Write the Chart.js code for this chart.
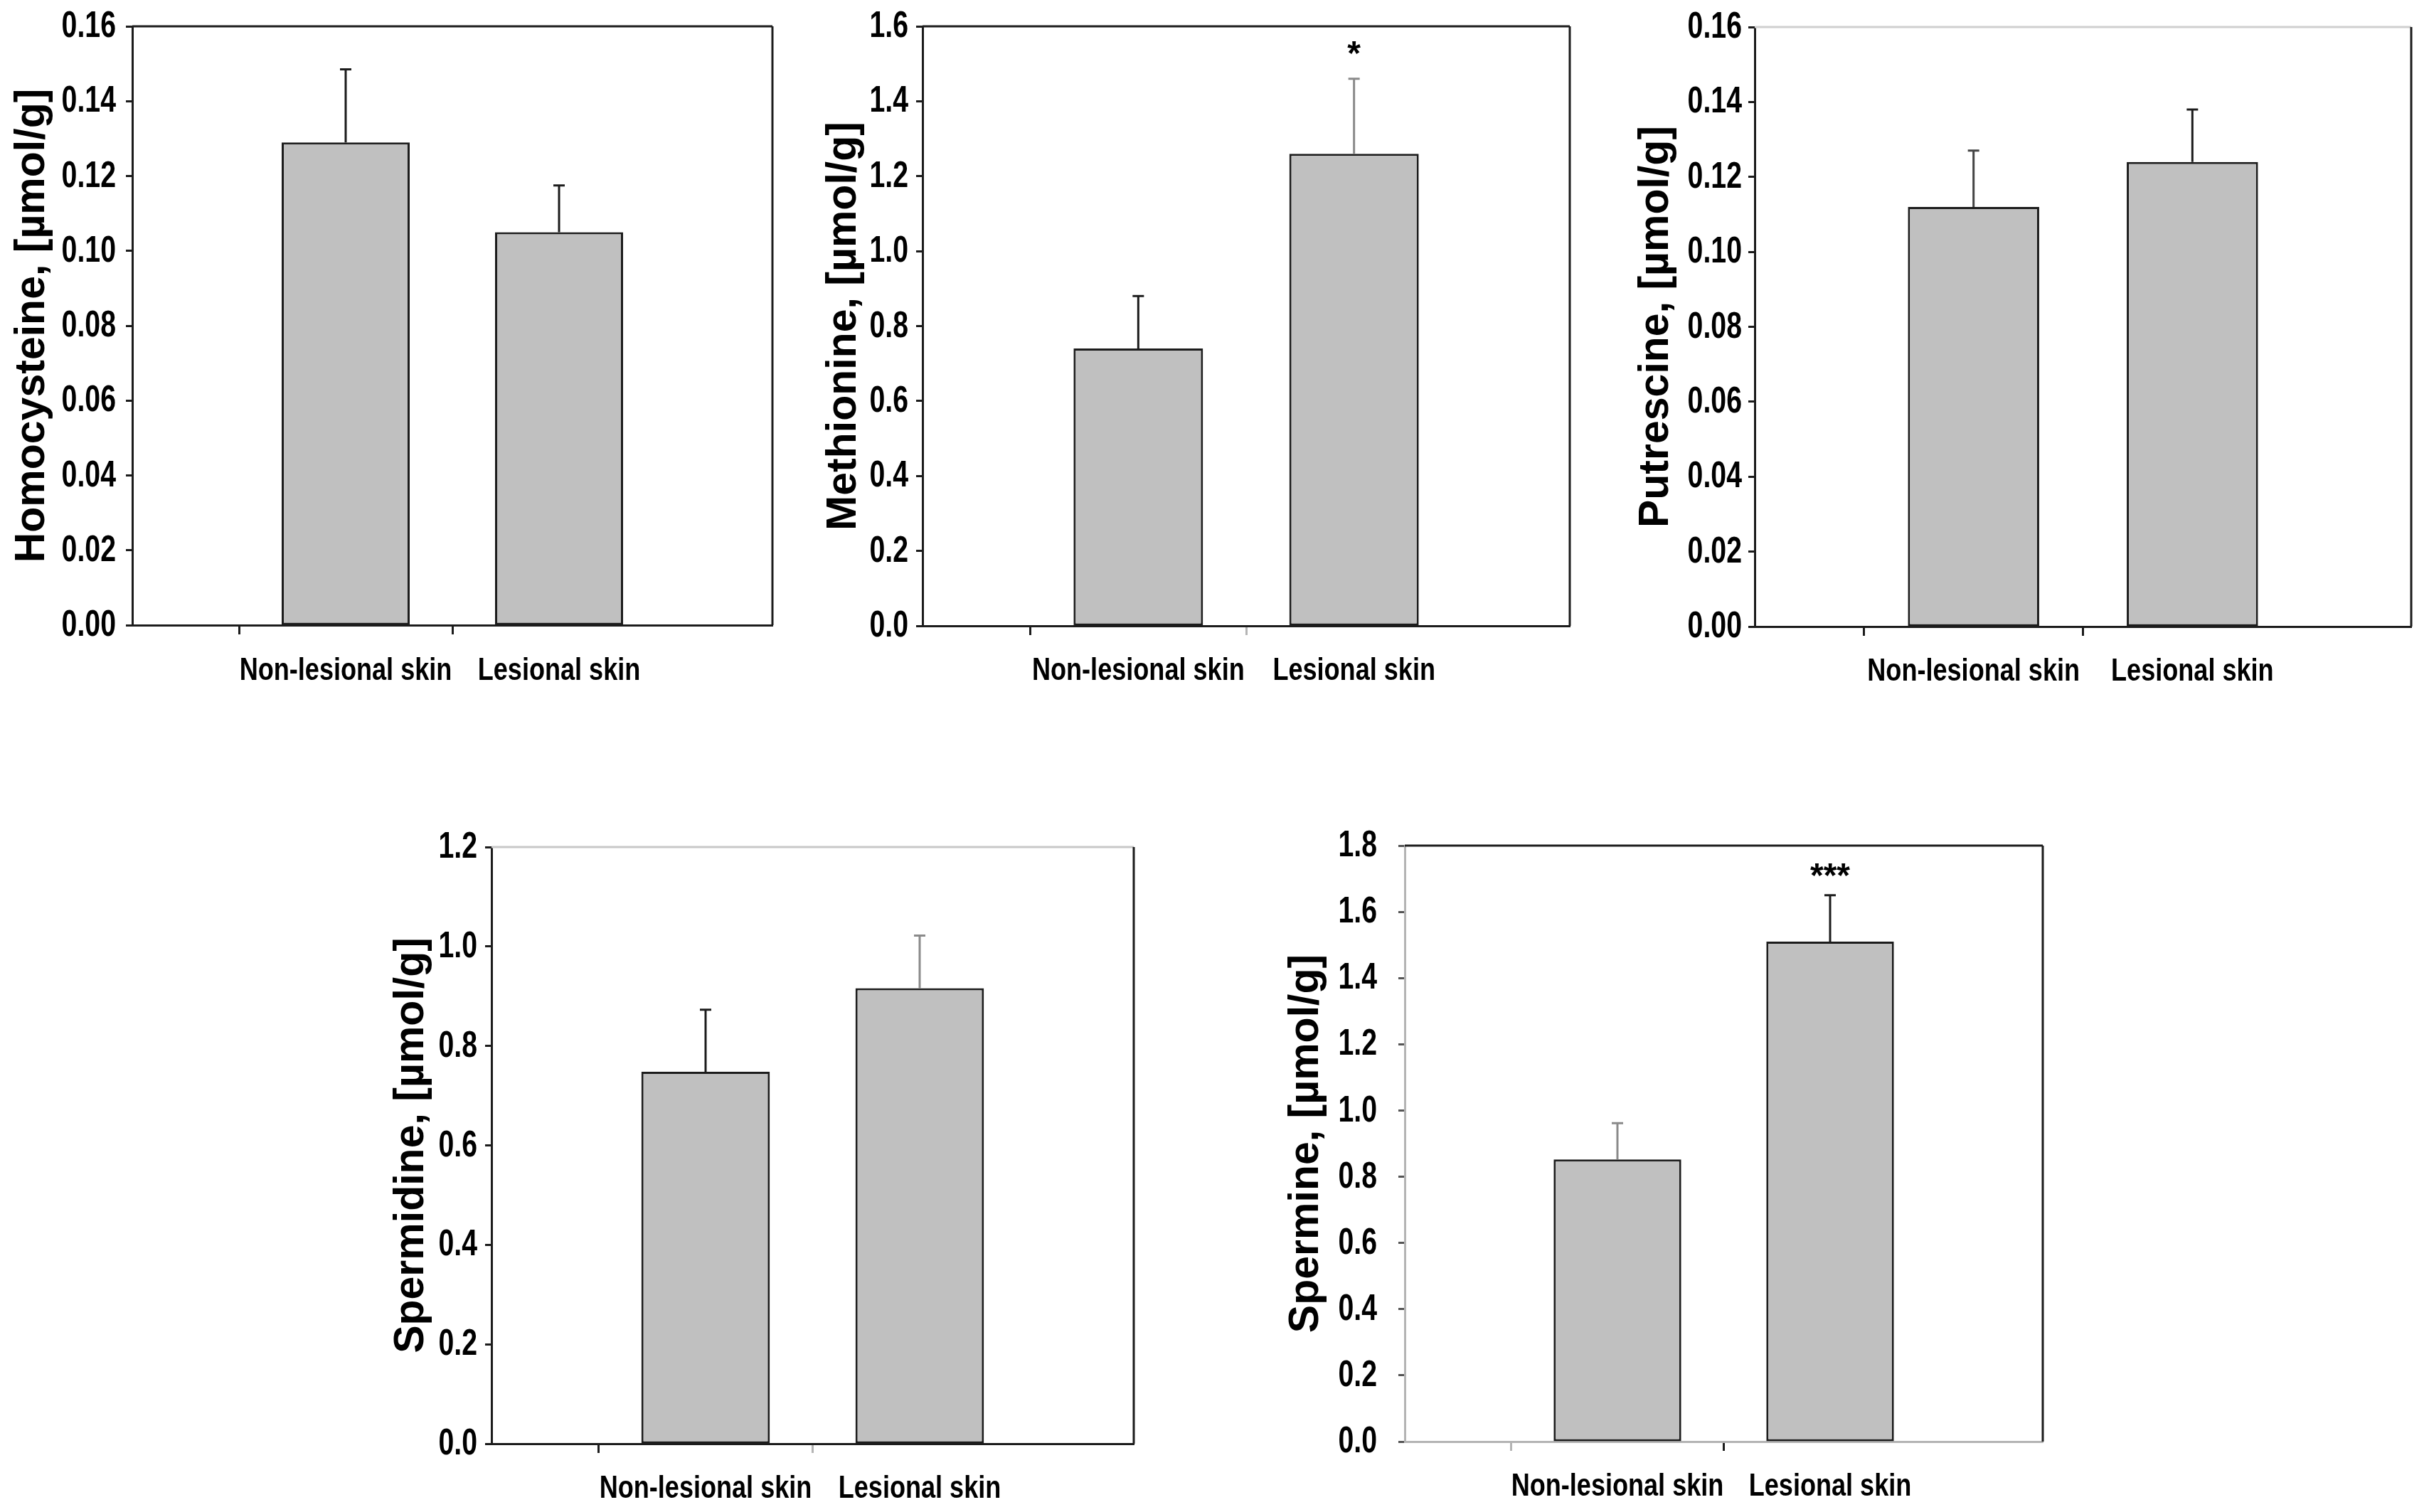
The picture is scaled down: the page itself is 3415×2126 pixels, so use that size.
<!DOCTYPE html>
<html>
<head>
<meta charset="utf-8">
<script src="https://cdn.jsdelivr.net/npm/chart.js@4.4.1/dist/chart.umd.min.js"></script>
<style>
  html, body { margin: 0; padding: 0; background: #fff; }
  #page { position: relative; width: 3415px; height: 2126px; overflow: hidden; background: #fff; }
  #page canvas { position: absolute; }
</style>
</head>
<body>
<div id="page"></div>
<script>
// values (mean, upper error = SEM)
const groups = ['Non-lesional skin', 'Lesional skin'];

const homocysteine = [0.129, 0.105];
const homocysteineSem = [0.0195, 0.0125];
const methionine = [0.74, 1.26];
const methionineSem = [0.14, 0.20];
const putrescine = [0.112, 0.124];
const putrescineSem = [0.015, 0.014];
const spermidine = [0.748, 0.916];
const spermidineSem = [0.125, 0.106];
const spermine = [0.852, 1.51];
const spermineSem = [0.11, 0.14];

const methionineSig = ['', '*'];
const spermineSig = ['', '***'];

const hcyTicks = [0, 0.02, 0.04, 0.06, 0.08, 0.10, 0.12, 0.14, 0.16];
const metTicks = [0, 0.2, 0.4, 0.6, 0.8, 1.0, 1.2, 1.4, 1.6];
const putTicks = [0, 0.02, 0.04, 0.06, 0.08, 0.10, 0.12, 0.14, 0.16];
const spdTicks = [0, 0.2, 0.4, 0.6, 0.8, 1.0, 1.2];
const spmTicks = [0, 0.2, 0.4, 0.6, 0.8, 1.0, 1.2, 1.4, 1.6, 1.8];

const DARK = '#1c1c1c';
const LIGHT = '#b4b4b4';
const Y_W = 180;
const X_H = 140;
const Y_TICK = 9;
const X_TICK = 13;

const panels = [
  { title: 'Homocysteine, [µmol/g]', values: homocysteine, sem: homocysteineSem, sig: null, sigGap: 12,
    ticks: hcyTicks, decimals: 2,
    box: { left: 186, right: 1086, top: 37, bottom: 879 }, titleGap: 140, tickPad: 14, labelGap: 65,
    errColors: [DARK, DARK], xTickColors: [DARK, DARK], yAxis: DARK, xAxis: DARK, topLine: DARK, rightLine: DARK },
  { title: 'Methionine, [µmol/g]', values: methionine, sem: methionineSem, sig: methionineSig, sigGap: 20,
    ticks: metTicks, decimals: 1,
    box: { left: 1297, right: 2207, top: 37, bottom: 880 }, titleGap: 110, tickPad: 11, labelGap: 64,
    errColors: [DARK, '#8a8a8a'], xTickColors: [DARK, LIGHT], yAxis: DARK, xAxis: DARK, topLine: DARK, rightLine: DARK },
  { title: 'Putrescine, [µmol/g]', values: putrescine, sem: putrescineSem, sig: null, sigGap: 12,
    ticks: putTicks, decimals: 2,
    box: { left: 2467, right: 3390, top: 38, bottom: 881 }, titleGap: 138, tickPad: 9, labelGap: 64,
    errColors: ['#444', DARK], xTickColors: [DARK, DARK], yAxis: DARK, xAxis: DARK, topLine: '#cfcfcf', rightLine: DARK },
  { title: 'Spermidine, [µmol/g]', values: spermidine, sem: spermidineSem, sig: null, sigGap: 12,
    ticks: spdTicks, decimals: 1,
    box: { left: 691, right: 1594, top: 1191, bottom: 2030 }, titleGap: 112, tickPad: 11, labelGap: 64,
    errColors: [DARK, '#8a8a8a'], xTickColors: [DARK, LIGHT], yAxis: DARK, xAxis: DARK, topLine: '#c8c8c8', rightLine: DARK },
  { title: 'Spermine, [µmol/g]', values: spermine, sem: spermineSem, sig: spermineSig, sigGap: 12,
    ticks: spmTicks, decimals: 1,
    box: { left: 1975, right: 2872, top: 1189, bottom: 2027 }, titleGap: 138, tickPad: 30, labelGap: 64,
    errColors: ['#8a8a8a', DARK], xTickColors: [LIGHT, DARK], yAxis: LIGHT, xAxis: LIGHT, topLine: DARK, rightLine: DARK }
];

const wide = "'Liberation Sans', Arial, sans-serif";
const SQUEEZE_Y = 0.77; // condensed look of the original tick numbers
const SQUEEZE_X = 0.82;

const errorBars = {
  id: 'errorBars',
  afterDatasetsDraw(chart, args, opts) {
    const p = opts.panel;
    const meta = chart.getDatasetMeta(0);
    const y = chart.scales.y;
    const ctx = chart.ctx;
    ctx.save();
    meta.data.forEach((bar, i) => {
      const k = i - 1;
      if (k < 0 || k >= p.values.length) return;
      const errY = y.getPixelForValue(p.values[k] + p.sem[k]);
      ctx.strokeStyle = p.errColors[k];
      ctx.lineWidth = 3;
      ctx.beginPath();
      ctx.moveTo(bar.x, bar.y);
      ctx.lineTo(bar.x, errY);
      ctx.moveTo(bar.x - 8, errY);
      ctx.lineTo(bar.x + 8, errY);
      ctx.stroke();
      if (p.sig && p.sig[k]) {
        ctx.fillStyle = '#000';
        ctx.font = 'bold 48px ' + wide;
        ctx.textAlign = 'center';
        ctx.textBaseline = 'alphabetic';
        ctx.fillText(p.sig[k], bar.x, errY - p.sigGap);
      }
    });
    ctx.restore();
  }
};

const frame = {
  id: 'frame',
  afterDraw(chart, args, opts) {
    const p = opts.panel;
    const a = chart.chartArea;
    const ctx = chart.ctx;
    ctx.save();
    ctx.lineWidth = 3;
    ctx.strokeStyle = p.topLine;
    ctx.beginPath();
    ctx.moveTo(a.left, a.top);
    ctx.lineTo(a.right, a.top);
    ctx.stroke();
    ctx.strokeStyle = p.rightLine;
    ctx.beginPath();
    ctx.moveTo(a.right, a.top);
    ctx.lineTo(a.right, a.bottom);
    ctx.stroke();
    ctx.restore();
  }
};

// condensed tick labels, placed from the chart's own scales
const narrowLabels = {
  id: 'narrowLabels',
  afterDraw(chart, args, opts) {
    const p = opts.panel;
    const ctx = chart.ctx;
    const ys = chart.scales.y;
    const xs = chart.scales.x;
    ctx.save();
    ctx.fillStyle = '#000';
    ctx.font = 'bold 51px ' + wide;
    ctx.textAlign = 'right';
    ctx.textBaseline = 'middle';
    p.ticks.forEach(v => {
      ctx.save();
      ctx.translate(ys.right - Y_TICK - p.tickPad, ys.getPixelForValue(v) + 1);
      ctx.scale(SQUEEZE_Y, 1);
      ctx.fillText(v.toFixed(p.decimals), 0, 0);
      ctx.restore();
    });
    ctx.font = 'bold 44px ' + wide;
    ctx.textAlign = 'center';
    groups.forEach((g, i) => {
      ctx.save();
      ctx.translate(xs.getPixelForValue(i + 1), xs.top + p.labelGap);
      ctx.scale(SQUEEZE_X, 1);
      ctx.fillText(g, 0, 0);
      ctx.restore();
    });
    ctx.restore();
  }
};

function makeChart(p) {
  const page = document.getElementById('page');
  const canvas = document.createElement('canvas');
  const w = p.box.right - p.box.left + Y_W + 20;
  const h = p.box.bottom - p.box.top + 60 + X_H;
  canvas.width = w;
  canvas.height = h;
  canvas.style.width = w + 'px';
  canvas.style.height = h + 'px';
  canvas.style.left = (p.box.left - Y_W) + 'px';
  canvas.style.top = (p.box.top - 60) + 'px';
  page.appendChild(canvas);

  const labels = ['', ...groups, ''];
  const data = [null, ...p.values, null];
  const titleFont = { family: wide, size: 59, weight: 'bold', lineHeight: 1.2 };

  return new Chart(canvas.getContext('2d'), {
    type: 'bar',
    data: {
      labels: labels,
      datasets: [{
        data: data,
        backgroundColor: '#c0c0c0',
        borderColor: DARK,
        borderWidth: 3,
        borderSkipped: false,
        barPercentage: 0.6,
        categoryPercentage: 1
      }]
    },
    options: {
      responsive: false,
      animation: false,
      devicePixelRatio: 1,
      layout: { padding: { left: 0, top: 60, right: 20, bottom: 0 } },
      plugins: {
        legend: { display: false },
        tooltip: { enabled: false },
        errorBars: { panel: p },
        frame: { panel: p },
        narrowLabels: { panel: p }
      },
      scales: {
        x: {
          type: 'category',
          offset: false,
          afterFit: s => { s.height = X_H; },
          grid: {
            display: true,
            drawOnChartArea: false,
            drawTicks: true,
            tickLength: X_TICK,
            tickWidth: 3,
            tickColor: c => (c.index === 1 || c.index === 2) ? p.xTickColors[c.index - 1] : 'rgba(0,0,0,0)'
          },
          border: { display: true, color: p.xAxis, width: 3 },
          ticks: { display: false, autoSkip: false }
        },
        y: {
          type: 'linear',
          min: 0,
          max: p.ticks[p.ticks.length - 1],
          afterFit: s => { s.width = Y_W; },
          afterBuildTicks: s => { s.ticks = p.ticks.map(v => ({ value: v })); },
          grid: {
            display: true,
            drawOnChartArea: false,
            drawTicks: true,
            tickLength: Y_TICK,
            tickWidth: 3,
            tickColor: p.yAxis === LIGHT ? '#555' : DARK
          },
          border: { display: true, color: p.yAxis, width: 3 },
          ticks: { display: false },
          title: {
            display: true,
            text: p.title,
            color: '#000',
            font: titleFont,
            padding: { top: Y_W - p.titleGap - titleFont.size * titleFont.lineHeight / 2, bottom: 0 }
          }
        }
      }
    },
    plugins: [errorBars, frame, narrowLabels]
  });
}

panels.forEach(makeChart);
</script>
</body>
</html>
